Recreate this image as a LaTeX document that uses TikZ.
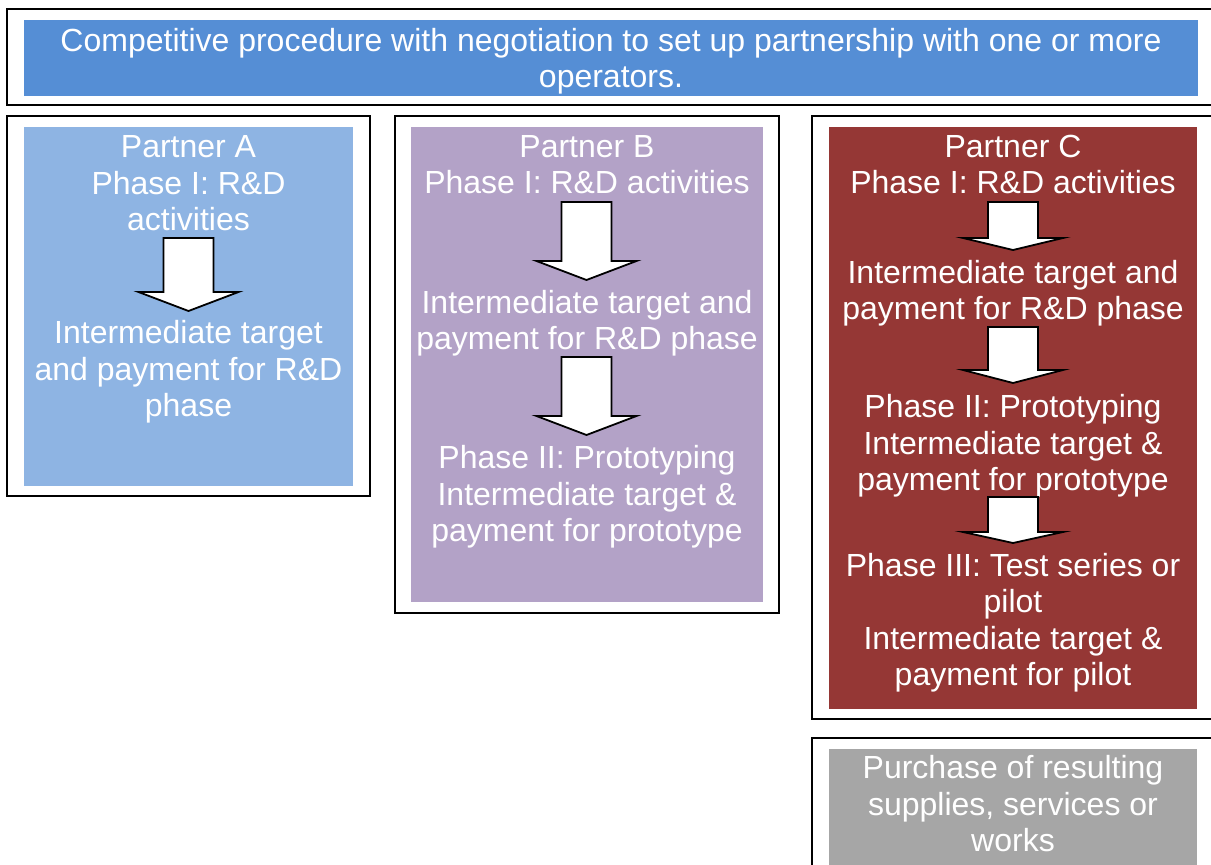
\documentclass[tikz,border=0pt]{standalone}
\usepackage{fontspec}
\setmainfont{Liberation Sans}
\definecolor{topblue}{HTML}{558ED5}
\definecolor{lightblue}{HTML}{8EB4E3}
\definecolor{lilac}{HTML}{B3A2C7}
\definecolor{brick}{HTML}{953735}
\definecolor{midgray}{HTML}{A6A6A6}
\tikzset{
  frame/.style={draw=black, line width=1.8pt, fill=white},
  % base anchor sits on the last line's baseline
  label/.style={text=white, align=center, inner sep=0pt, anchor=base,
    font=\fontsize{32}{36.5}\selectfont},
  blockarrow/.style={draw=black, fill=white, line width=1.8pt, line join=miter}
}
% block arrow pointing down: centre x, shaft top, head base, tip
\newcommand{\blkarrow}[4]{%
  \draw[blockarrow] (#1-25,#2) -- (#1+25,#2) -- (#1+25,#3) -- (#1+50,#3)
    -- (#1,#4) -- (#1-50,#3) -- (#1-25,#3) -- cycle;}
\begin{document}
\begin{tikzpicture}[x=1pt,y=-1pt]
\useasboundingbox (0,0) rectangle (1211,865);
\clip (0,0) rectangle (1211,865);
\fill[white] (0,0) rectangle (1211,865);

% header
\draw[frame] (7,9) rectangle (1225,105);
\fill[topblue] (24,20) rectangle (1198,96);
\node[label] (head) at (611,87.5) {Competitive procedure with negotiation to set up partnership with one or more\\operators.};

% partner A
\draw[frame] (7,116) rectangle (370,496);
\fill[lightblue] (24,127) rectangle (353,486);
\node[label] (a1) at (188.5,230.5) {Partner A\\Phase I: R\&D\\activities};
\blkarrow{188.5}{238}{292}{311}
\node[label] (a2) at (188.5,416.5) {Intermediate target\\and payment for R\&D\\phase};

% partner B
\draw[frame] (395,116) rectangle (779,613);
\fill[lilac] (411,127) rectangle (763,602);
\node[label] (b1) at (587,193.5) {Partner B\\Phase I: R\&D activities};
\blkarrow{586.5}{202}{261}{280}
\node[label] (b2) at (587,349.5) {Intermediate target and\\payment for R\&D phase};
\blkarrow{586.5}{357}{416}{435}
\node[label] (b3) at (587,541.5) {Phase II: Prototyping\\Intermediate target \&\\payment for prototype};

% partner C
\draw[frame] (812,116) rectangle (1225,719);
\fill[brick] (829,127) rectangle (1197,709);
\node[label] (c1) at (1013,193.5) {Partner C\\Phase I: R\&D activities};
\blkarrow{1013}{202}{238}{250}
\node[label] (c2) at (1013,319.5) {Intermediate target and\\payment for R\&D phase};
\blkarrow{1013}{327}{370}{383}
\node[label] (c3) at (1013,490.5) {Phase II: Prototyping\\Intermediate target \&\\payment for prototype};
\blkarrow{1013}{497}{532}{543}
\node[label] (c4) at (1013,685.5) {Phase III: Test series or\\pilot\\Intermediate target \&\\payment for pilot};

% purchase
\draw[frame] (812,738) rectangle (1225,880);
\fill[midgray] (829,749) rectangle (1197,880);
\node[label] (buy) at (1013,851.5) {Purchase of resulting\\supplies, services or\\works};
\end{tikzpicture}
\end{document}
